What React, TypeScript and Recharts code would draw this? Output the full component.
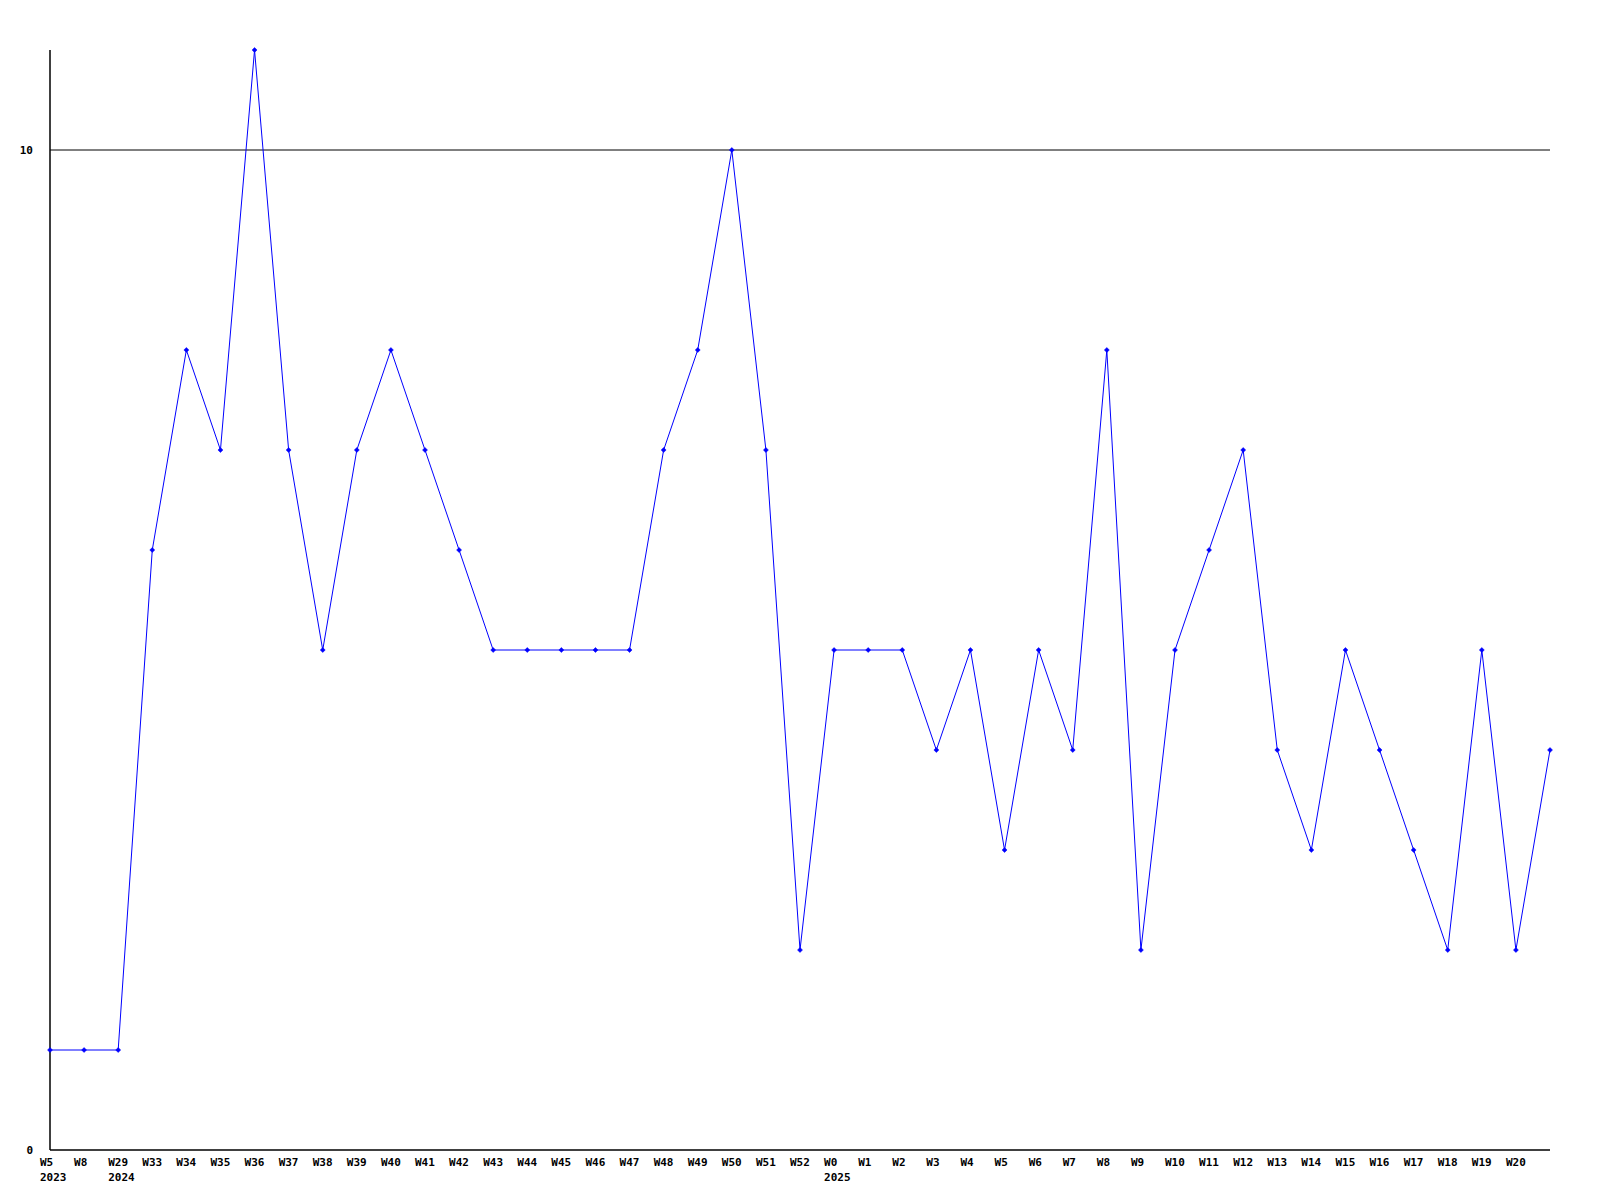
import React from 'react';
import { LineChart, Line, XAxis, YAxis, ReferenceLine } from 'recharts';

const weekLabels = ['W5','W8','W29','W33','W34','W35','W36','W37','W38','W39','W40','W41','W42','W43','W44','W45','W46','W47','W48','W49','W50','W51','W52','W0','W1','W2','W3','W4','W5','W6','W7','W8','W9','W10','W11','W12','W13','W14','W15','W16','W17','W18','W19','W20',''];
const yearLabels: Record<number, string> = { 0: '2023', 2: '2024', 23: '2025' };
const values = [1,1,1,6,8,7,11,7,5,7,8,7,6,5,5,5,5,5,7,8,10,7,2,5,5,5,4,5,3,5,4,8,2,5,6,7,4,3,5,4,3,2,5,2,4];
const yTicks = [0, 10];
const gridValue = 10;

const data = values.map((v, i) => ({ idx: i, label: weekLabels[i], value: v }));
const xTicks = weekLabels.map((_, i) => i).filter((i) => weekLabels[i] !== '');

const FONT = '"DejaVu Sans Mono", "Liberation Mono", monospace';

const XTick = (props: any) => {
  const { x, y, payload } = props;
  const i = payload.value as number;
  return (
    <g>
      <text x={x - 10} y={y + 8} textAnchor="start" fontFamily={FONT} fontWeight="bold" fontSize={11} fill="#000">
        {weekLabels[i]}
      </text>
      {yearLabels[i] ? (
        <text x={x - 10} y={y + 23} textAnchor="start" fontFamily={FONT} fontWeight="bold" fontSize={11} fill="#000">
          {yearLabels[i]}
        </text>
      ) : null}
    </g>
  );
};

const YTick = (props: any) => {
  const { y, payload } = props;
  return (
    <text x={33} y={y + 4} textAnchor="end" fontFamily={FONT} fontWeight="bold" fontSize={11} fill="#000">
      {payload.value}
    </text>
  );
};

const Dot = (props: any) => {
  const { cx, cy, index } = props;
  if (cx == null || cy == null) return <g key={index} />;
  return (
    <path key={index} d={`M${cx - 2.5},${cy} L${cx},${cy - 2.5} L${cx + 2.5},${cy} L${cx},${cy + 2.5} Z`} fill="#0000ff" stroke="#0000ff" strokeWidth={0.5} />
  );
};

export default function App() {
  return (
    <div style={{ position: 'absolute', left: 0, top: 0, width: 1600, height: 1200, background: '#fff' }}>
      <LineChart width={1600} height={1200} data={data} margin={{ top: 50, right: 50, left: 0, bottom: 0 }}>
        <XAxis
          dataKey="idx"
          type="number"
          domain={[0, 44]}
          ticks={xTicks}
          interval={0}
          height={50}
          tick={<XTick />}
          tickLine={false}
          axisLine={{ stroke: '#000', strokeWidth: 1.5 }}
        />
        <YAxis
          type="number"
          domain={[0, 11]}
          ticks={yTicks}
          width={50}
          tick={<YTick />}
          tickLine={false}
          axisLine={{ stroke: '#000', strokeWidth: 1.5 }}
        />
        <ReferenceLine y={gridValue} stroke="#000" strokeWidth={1} />
        <Line
          type="linear"
          dataKey="value"
          stroke="#0000ff"
          strokeWidth={1}
          dot={<Dot />}
          activeDot={false}
          isAnimationActive={false}
        />
      </LineChart>
    </div>
  );
}
